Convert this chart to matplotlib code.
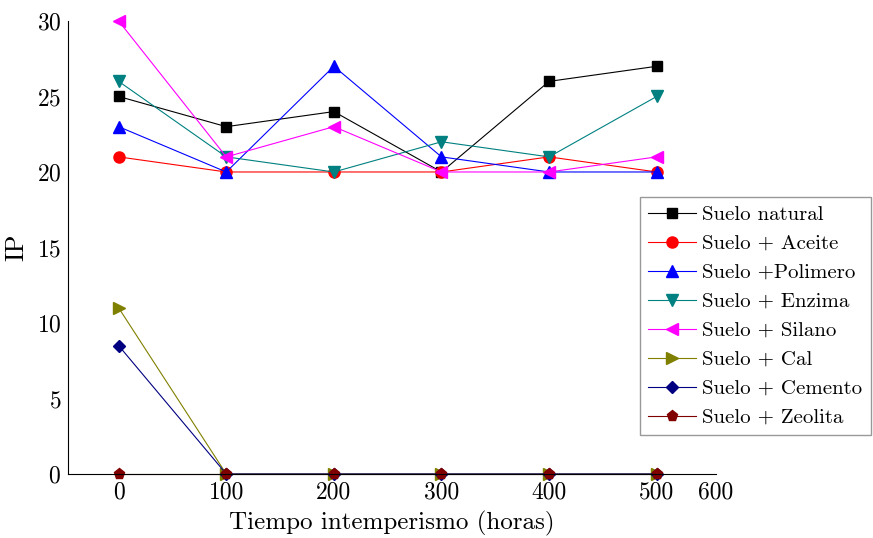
import numpy as np
import matplotlib
matplotlib.use("Agg")
import matplotlib.pyplot as plt

plt.rcParams['font.family'] = ['cmr10', 'DejaVu Serif']
plt.rcParams['axes.formatter.use_mathtext'] = True
plt.rcParams['mathtext.fontset'] = 'cm'

# Data
horas = [0, 100, 200, 300, 400, 500]
natural = [25, 23, 24, 20, 26, 27]
aceite = [21, 20, 20, 20, 21, 20]
polimero = [23, 20, 27, 21, 20, 20]
enzima = [26, 21, 20, 22, 21, 25]
silano = [30, 21, 23, 20, 20, 21]
cal = [11, 0, 0, 0, 0, 0]
cemento = [8.5, 0, 0, 0, 0, 0]
zeolita = [0, 0, 0, 0, 0, 0]

labels = ['Suelo natural', 'Suelo + Aceite', 'Suelo +Polimero', 'Suelo + Enzima',
          'Suelo + Silano', 'Suelo + Cal', 'Suelo + Cemento', 'Suelo + Zeolita']
series = [natural, aceite, polimero, enzima, silano, cal, cemento, zeolita]
colors = ['black', 'red', 'blue', '#008080', 'magenta', '#808000', '#000080', '#800000']
markers = ['s', 'o', '^', 'v', '<', '>', 'D', 'p']
msizes = [7, 8, 8, 8, 8, 8, 6.5, 8]

xticks = [0, 100, 200, 300, 400, 500, 555]
xticklabels = ['0', '100', '200', '300', '400', '500', '600']

fig = plt.figure(figsize=(8.73, 5.38), dpi=100)
ax = fig.add_axes([0.078, 0.119, 0.742, 0.842])

for y, lab, c, m, ms in zip(series, labels, colors, markers, msizes):
    ax.plot(horas, y, color=c, marker=m, markersize=ms, linewidth=0.8,
            markerfacecolor=c, markeredgecolor=c, label=lab, clip_on=False)

ax.set_xlim(-47, 555)
ax.set_ylim(0, 30)
ax.set_xticks(xticks)
ax.set_xticklabels(xticklabels)
ax.set_yticks(np.arange(0, 31, 5))
ax.tick_params(length=0, labelsize=17, pad=5)
ax.spines['top'].set_visible(False)
ax.spines['right'].set_visible(False)
ax.set_xlabel('Tiempo intemperismo (horas)', fontsize=18, labelpad=6)
ax.set_ylabel('IP', fontsize=19, labelpad=6)

leg = fig.legend(loc='upper left', bbox_to_anchor=(0.733, 0.634), fontsize=15,
                 frameon=True, fancybox=False, edgecolor='#808080',
                 handlelength=2.3, labelspacing=0.5, borderpad=0.4,
                 borderaxespad=0, handletextpad=0.3)
leg.get_frame().set_linewidth(1.0)

fig.savefig('out.png', dpi=100)
